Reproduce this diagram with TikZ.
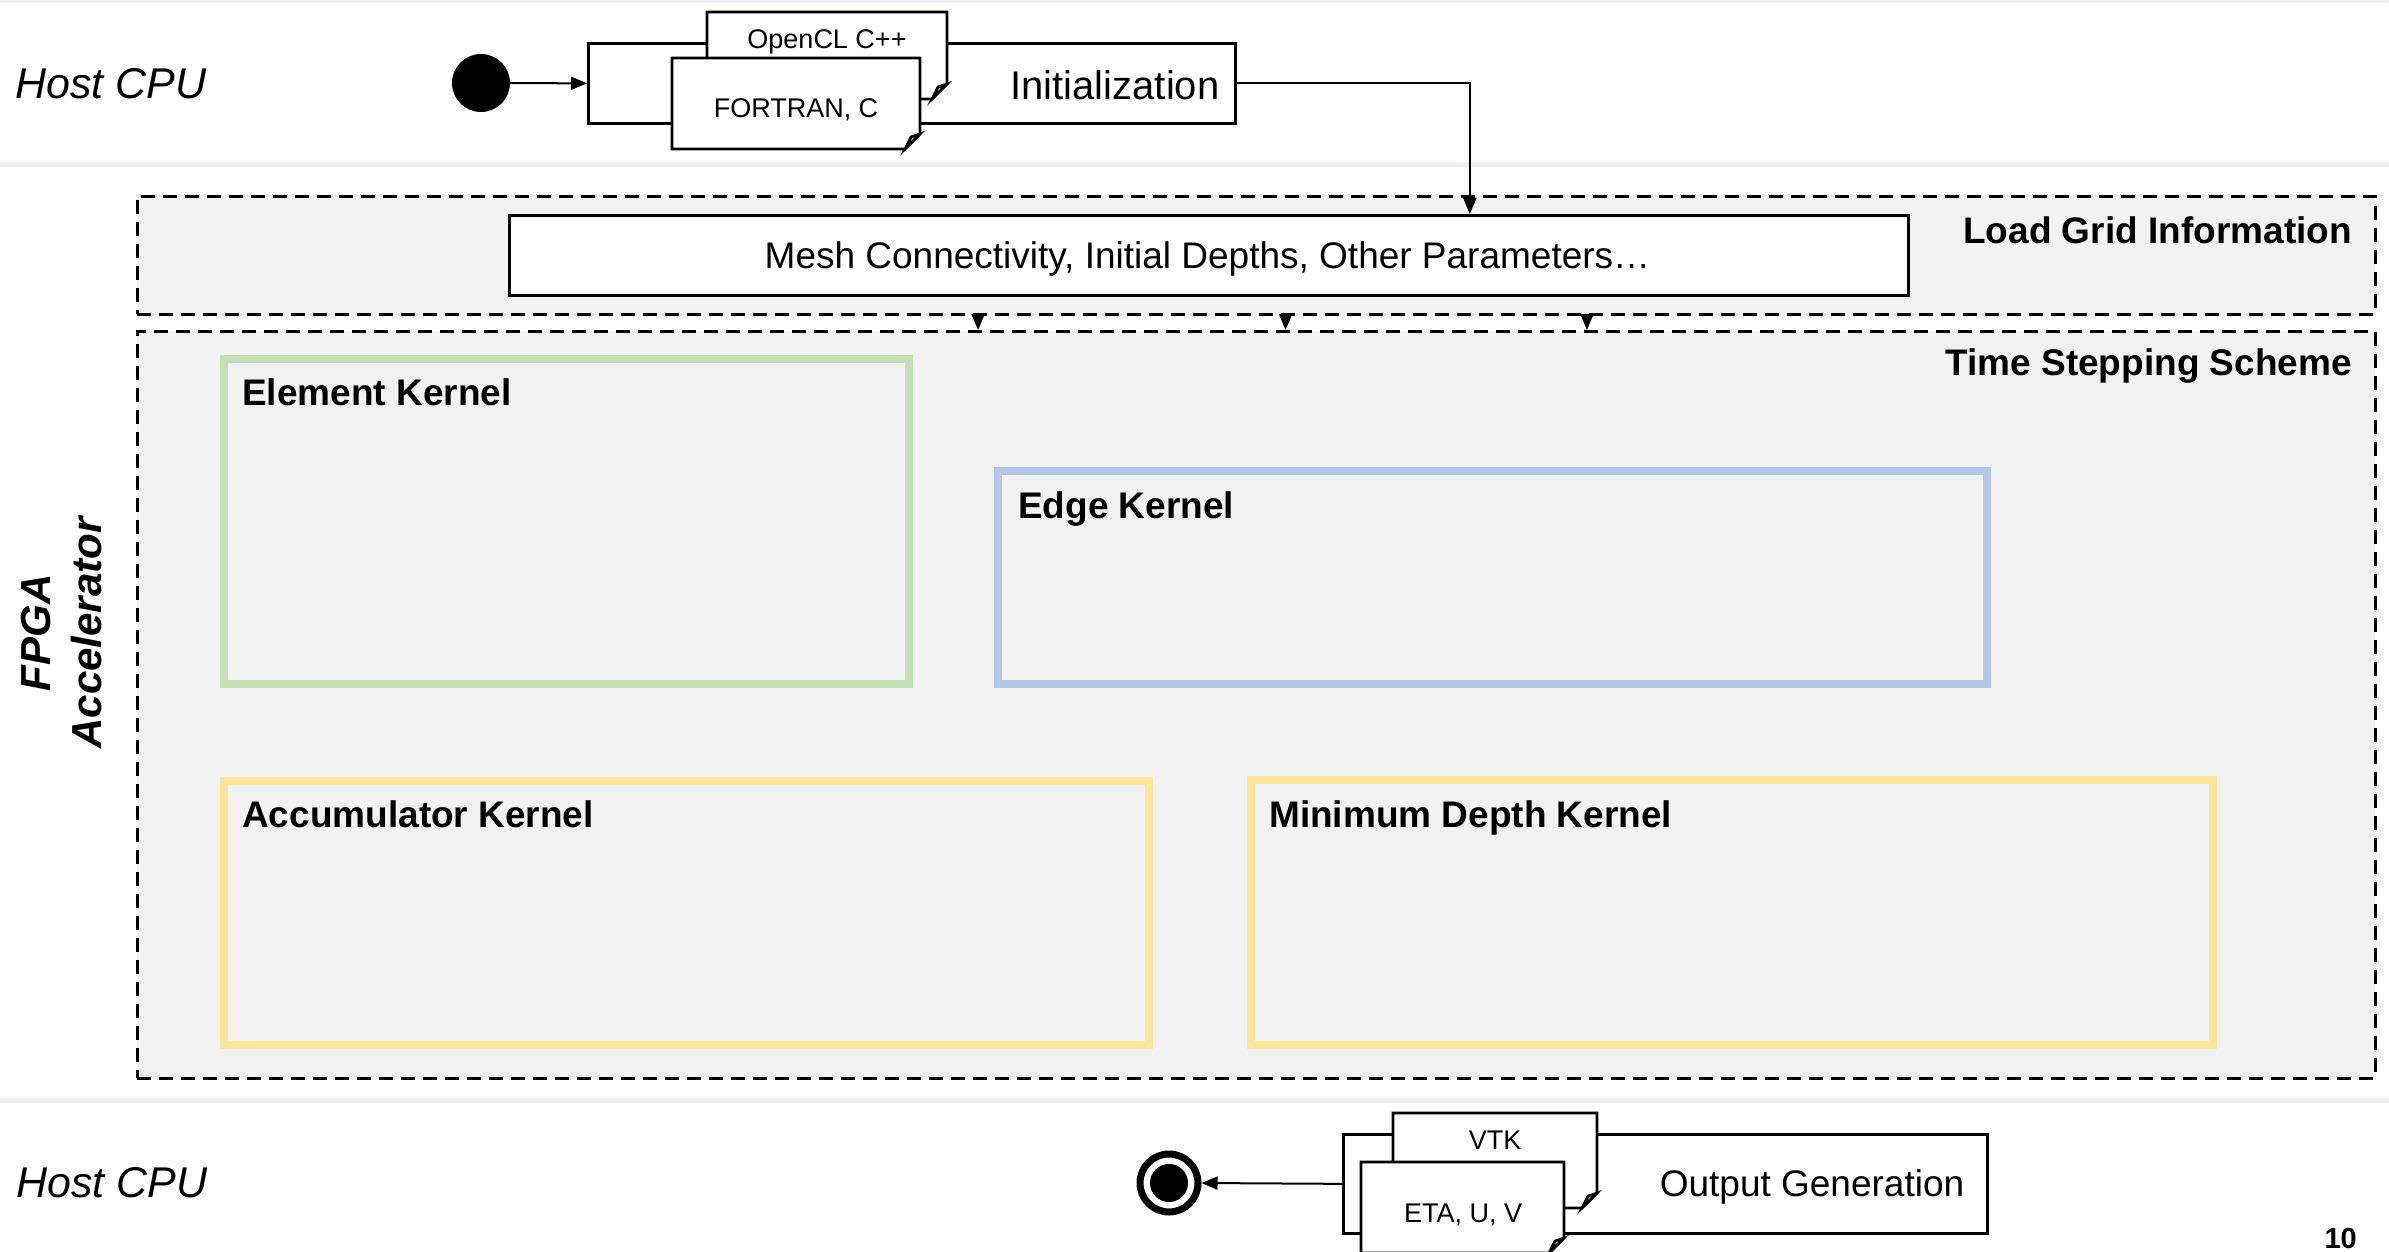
\documentclass[tikz,border=0pt]{standalone}
\usepackage{fontspec}
\setmainfont{Liberation Sans}
\usetikzlibrary{arrows.meta,calc}
\definecolor{lanecol}{RGB}{231,239,247}
\definecolor{panel}{RGB}{242,242,242}
\definecolor{kgreen}{RGB}{197,224,180}
\definecolor{kblue}{RGB}{180,199,231}
\definecolor{kyellow}{RGB}{255,230,153}
\definecolor{foldgrey}{RGB}{190,190,190}
% document shape with folded bottom-right corner: x1,y1,x2,y2
\newcommand{\docshape}[4]{%
  \filldraw[docline, fill=white] (#1,#2) -- (#3,#2) -- (#3,#4-15) -- (#3-15,#4) -- (#1,#4) -- cycle;
  \filldraw[docline, fill=foldgrey] (#3,#4-15) -- (#3-9,#4-12) -- (#3-15,#4) -- cycle;
}
\begin{document}
\begin{tikzpicture}[x=1pt,y=-1pt,
  lane/.style={draw=lanecol, line width=5pt},
  lbl/.style={font=\fontsize{37}{44}\selectfont, inner sep=0pt},
  bigl/.style={font=\fontsize{40}{48}\selectfont, inner sep=0pt},
  boldlbl/.style={font=\bfseries\fontsize{37}{44}\selectfont, inner sep=0pt},
  doclbl/.style={font=\fontsize{27}{32}\selectfont, inner sep=0pt},
  hostlbl/.style={font=\itshape\fontsize{43}{50}\selectfont, inner sep=0pt, anchor=west},
  container/.style={draw, line width=2.8pt, dash pattern=on 14pt off 8pt, fill=panel, inner sep=0pt, anchor=north west},
  box/.style={draw, fill=white, line width=2.7pt, inner sep=0pt, anchor=north west},
  kernel/.style={line width=8pt, inner sep=0pt},
  docline/.style={draw=black, line width=2.7pt, line join=miter},
  arr/.style={line width=2pt, -{Triangle[length=16pt,width=13pt]}}
]
\useasboundingbox (0,0) rectangle (2389,1252);

% swimlane separators
\draw[lane] (0,1) -- (2389,1);
\draw[lane] (0,164.5) -- (2389,164.5);
\draw[lane] (0,1100) -- (2389,1100);

% lane labels
\node[hostlbl] (host1) at (15,84) {Host CPU};
\node[hostlbl] (host2) at (16,1183) {Host CPU};
\node[font=\bfseries\itshape\fontsize{42}{51}\selectfont, rotate=90, align=center, inner sep=0pt] (fpga) at (62,633) {FPGA\\Accelerator};

% initialization group
\node[circle, fill=black, minimum size=58pt, inner sep=0pt] (start) at (481,83) {};
\node[box, minimum width=647pt, minimum height=80pt] (init) at (587,42) {};
\node[bigl] (initt) at (1115,85) {Initialization};
\docshape{707}{12}{947}{99}
\node[doclbl] (ocl) at (827,42) {OpenCL C++};
\docshape{672}{58}{920}{149}
\node[doclbl] (fort) at (796,110) {FORTRAN, C};
\draw[arr] (start) -- (init.west);

% load grid information
\node[container, minimum width=2238pt, minimum height=118pt] (loadgrid) at (136,195) {};
\node[boldlbl, anchor=base east] (loadt) at (2352,243) {Load Grid Information};
\node[box, line width=3pt, minimum width=1399pt, minimum height=80pt] (mesh) at (508,214) {};
\node[lbl] (mesht) at (1207.5,259) {Mesh Connectivity, Initial Depths, Other Parameters\ldots};
\draw[arr] (init.east) -| ($(mesh.north west)!0.686!(mesh.north east)$);

% time stepping scheme
\node[container, minimum width=2238pt, minimum height=747pt] (timestep) at (136,330) {};
\node[boldlbl, anchor=base east] (timet) at (2352,375) {Time Stepping Scheme};
\foreach \f in {0.3758,0.513,0.6475}
  \draw[arr] ($(loadgrid.south west)!\f!(loadgrid.south east)$) -- ($(timestep.north west)!\f!(timestep.north east)$);

% kernels
\node[kernel, draw=kgreen, minimum width=685pt, minimum height=325pt] (elem) at (566.5,521.5) {};
\node[boldlbl, anchor=base west] (elemt) at (242,405) {Element Kernel};
\node[kernel, draw=kblue, minimum width=989pt, minimum height=213pt] (edge) at (1492.5,577.5) {};
\node[boldlbl, anchor=base west] (edget) at (1018,518) {Edge Kernel};
\node[kernel, draw=kyellow, minimum width=925pt, minimum height=264pt] (acc) at (686.5,913) {};
\node[boldlbl, anchor=base west] (acct) at (242,827) {Accumulator Kernel};
\node[kernel, draw=kyellow, minimum width=962pt, minimum height=265pt] (mind) at (1732,912.5) {};
\node[boldlbl, anchor=base west] (mindt) at (1269,827) {Minimum Depth Kernel};

% output generation group
\node[box, minimum width=644pt, minimum height=99pt] (outbox) at (1342,1133) {};
\node[lbl] (outt) at (1812,1187) {Output Generation};
\docshape{1393}{1113}{1597}{1208}
\node[doclbl] (vtk) at (1495,1140) {VTK};
\docshape{1361}{1162}{1564}{1253}
\node[doclbl] (eta) at (1463,1215) {ETA, U, V};
\node[circle, draw=black, line width=7pt, fill=white, minimum size=58pt, inner sep=0pt] (endc) at (1169,1183) {};
\fill[black] (endc.center) circle (19);
\draw[arr] (outbox.west) -- (endc.east);

% page number
\node[font=\bfseries\fontsize{29}{34}\selectfont, inner sep=0pt, anchor=base east] (pnum) at (2357,1248) {10};
\end{tikzpicture}
\end{document}
